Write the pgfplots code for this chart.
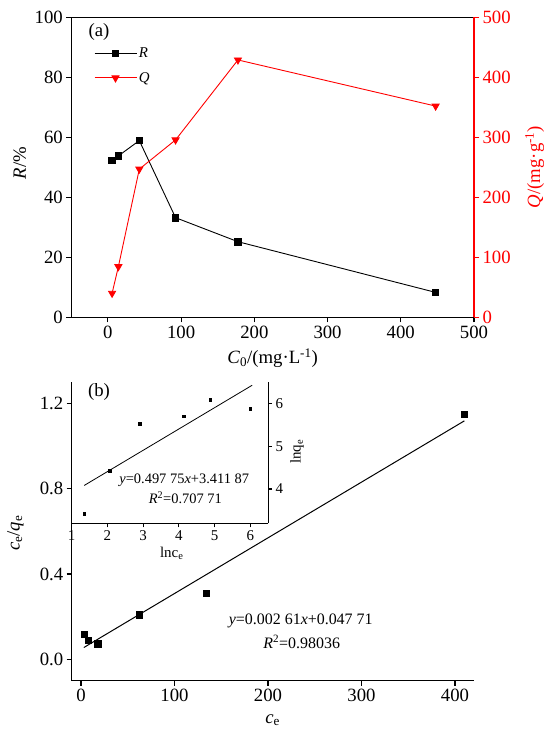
\documentclass[border=0pt]{standalone}
\usepackage{pgfplots}
\pgfplotsset{compat=1.18}
\usepackage{fontspec}
\setmainfont{Liberation Serif}
\newcommand{\fbig}{\fontsize{18.8}{22}\selectfont}
\newcommand{\fmid}{\fontsize{15}{17}\selectfont}
\newcommand{\feq}{\fontsize{16}{18}\selectfont}
\newcommand{\fin}{\fontsize{14.5}{17}\selectfont}
\begin{document}
\begin{tikzpicture}
\useasboundingbox (0,0) rectangle (544bp,729bp);
\pgfplotsset{
  base/.style={
    scale only axis, anchor=south west,
    font=\fbig, tick label style={font=\fbig},
    /pgf/number format/assume math mode=true,
    tick align=outside, major tick length=5bp,
    axis line style={line width=1.1bp},
    every tick/.style={line width=1.1bp, black},
    clip=false,
  },
}
% ---------------- top panel --------------
\begin{axis}[base,
  width=402.7bp, height=300bp, at={(71.3bp,411.7bp)},
  xmin=-50, xmax=500, ymin=0, ymax=100,
  xtick={0,100,...,500}, ytick={0,20,...,100},
  xtick pos=bottom, ytick pos=left,
  xlabel={\textit{C}\textsubscript{0}/(mg·L\textsuperscript{-1})},
  ylabel={\textit{R}/\%},
  xlabel style={at={(axis description cs:0.5,-0.137)}, anchor=center},
  ylabel style={at={(axis description cs:-0.128,0.514)}, anchor=center},
  legend style={draw=none, fill=none, at={(axis description cs:0.056,0.905)}, anchor=north west, font=\fmid, row sep=9bp, inner sep=0pt},
  legend cell align=left,
  legend image code/.code={\draw[mark repeat=2,mark phase=2] plot coordinates {(0bp,0bp) (21bp,0bp) (42bp,0bp)};},
]
\addplot[black, line width=0.9bp, mark=square*, mark size=3.3bp] coordinates {
 (5.7,52.3) (14.3,53.8) (42.9,58.9) (92.4,33.2) (177.6,25.2) (447.6,8.3)};
\addlegendentry{\textit{R}}
\addlegendimage{red, line width=0.9bp, mark=triangle*, mark size=4bp, mark options={rotate=180}}
\addlegendentry{\textit{Q}}
\node[anchor=center] at (axis description cs:0.069,0.952) {(a)};
\end{axis}
\begin{axis}[base,
  width=402.7bp, height=300bp, at={(71.3bp,411.7bp)},
  xmin=-50, xmax=500, ymin=0, ymax=500,
  axis x line=none, axis y line*=right,
  ytick={0,100,...,500},
  y axis line style={red, line width=1.1bp},
  every tick/.style={line width=1.1bp, red},
  yticklabel style={red},
  ylabel={\textit{Q}/(mg·g\textsuperscript{-1})},
  ylabel style={red, at={(axis description cs:1.151,0.501)}, anchor=center},
]
\addplot[red, line width=0.9bp, mark=triangle*, mark size=4bp, mark options={rotate=180}] coordinates {
 (5.7,40) (14.3,84.4) (42.9,247) (92.4,295.6) (177.6,428.9) (447.6,352)};
\end{axis}
% ---------------- bottom panel --------------
\begin{axis}[base,
  width=402bp, height=298.7bp, at={(71.7bp,48.3bp)},
  xmin=-10, xmax=420, ymin=-0.1, ymax=1.3,
  axis x line*=bottom, axis y line*=left,
  xtick={0,100,...,400}, ytick={0,0.4,0.8,1.2},
  yticklabel style={/pgf/number format/.cd, fixed, fixed zerofill, precision=1},
  xlabel={\textit{c}\textsubscript{e}},
  ylabel={\textit{c}\textsubscript{e}/\textit{q}\textsubscript{e}},
  xlabel style={at={(axis description cs:0.5,-0.132)}, anchor=center},
  ylabel style={at={(axis description cs:-0.14,0.494)}, anchor=center},
]
\addplot[black, only marks, mark=square*, mark size=3.3bp] coordinates {
 (3.3,0.118) (7.8,0.090) (18.1,0.073) (62.2,0.210) (134,0.310) (410,1.149)};
\addplot[black, line width=1bp] coordinates {(3,0.0555) (410,1.1178)};
\node[anchor=center] at (axis description cs:0.068,0.967) {(b)};
\node[anchor=center, font=\feq] at (axis cs:235,0.181) {\textit{y}=0.002 61\textit{x}+0.047 71};
\node[anchor=center, font=\feq] at (axis cs:236,0.083) {\textit{R}\textsuperscript{2}=0.98036};
\end{axis}
% inset
\begin{axis}[base,
  width=196.5bp, height=141.3bp, at={(71.7bp,205.7bp)},
  font=\fmid, tick label style={font=\fmid},
  xmin=1, xmax=6.5, ymin=3.2, ymax=6.5,
  axis x line*=bottom, axis y line*=right,
  xtick={1,...,6}, ytick={4,5,6},
  major tick length=4bp,
  xlabel={lnc\textsubscript{e}},
  ylabel={lnq\textsubscript{e}},
  xlabel style={at={(axis description cs:0.509,-0.21)}, anchor=center},
  ylabel style={at={(axis description cs:1.147,0.507)}, anchor=center},
]
\addplot[black, only marks, mark=square*, mark size=1.3bp] coordinates {
 (1.35,3.43) (2.06,4.43) (2.90,5.53) (4.13,5.70) (4.88,6.08) (6.0,5.88)};
\addplot[black, line width=0.8bp] coordinates {(1.35,4.0838) (6.05,6.4233)};
\node[anchor=center, font=\fin] at (axis cs:4.15,4.21) {\textit{y}=0.497 75\textit{x}+3.411 87};
\node[anchor=center, font=\fin] at (axis cs:4.18,3.80) {\textit{R}\textsuperscript{2}=0.707 71};
\end{axis}
\end{tikzpicture}
\end{document}
